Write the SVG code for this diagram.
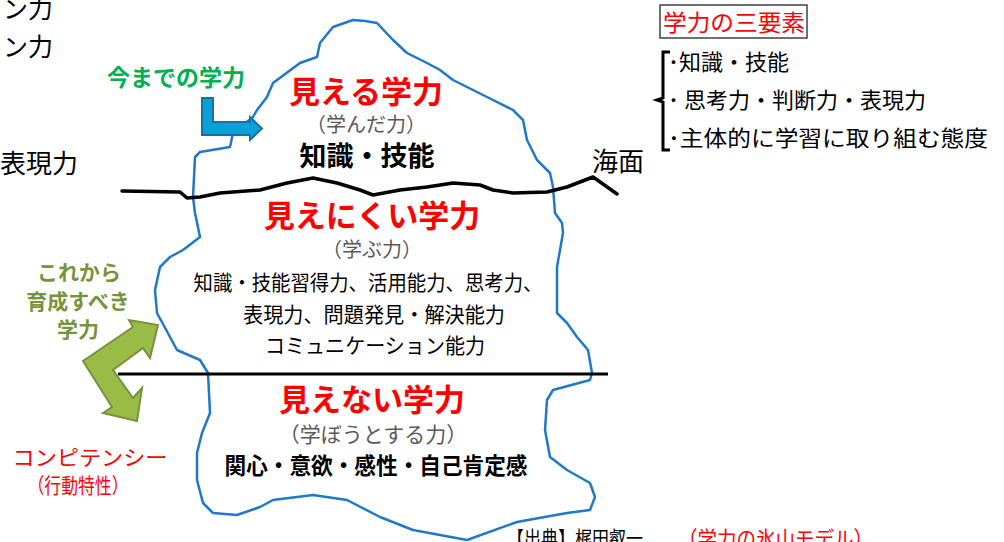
<svg xmlns="http://www.w3.org/2000/svg" width="1004" height="542" viewBox="0 0 1004 542">
<style>
.jp{font-family:"Noto Sans CJK JP","Noto Sans",sans-serif;}
.title{font-size:31px;font-weight:bold;fill:#FF0000;text-anchor:middle;}
.sub{font-size:21px;fill:#595959;text-anchor:middle;}
.body{font-size:21px;fill:#000;text-anchor:middle;}
.plain{font-size:25px;fill:#000;}
.list{font-size:22px;fill:#000;}
</style>
<rect width="1004" height="542" fill="#fff"/>
<g id="iceberg">
<path d="M365,21 L377,23 L393,40 L407,53 L427,63 L440,70 L453,80 L473,90 L493,100 L513,110 L523,120 L527,140 L537,160 L550,173 L553,187 L555,213 L562,223 L563,233 L557,267 L557,313 L567,323 L577,337 L588,350 L592,373 L590,380 L553,390 L547,400 L545,430 L550,457 L567,470 L590,483 L595,497 L590,510 L567,513 L517,522 L467,540 L413,530 L380,517 L347,500 L313,495 L273,500 L260,507 L237,515 L213,513 L203,503 L197,480 L197,453 L202,433 L210,413 L208,373 L200,360 L177,350 L170,337 L157,313 L155,290 L160,267 L170,257 L183,250 L200,237 L195,213 L193,197 L195,157 L200,152 L230,147 L233,133 L253,117 L257,110 L267,97 L273,83 L300,63 L317,57 L320,43 L333,27 L353,20 Z" fill="#fff" stroke="#1F78C8" stroke-width="2.5" stroke-linejoin="round"/>
</g>
<g id="lines">
<polyline points="122,191 180,192 187,198 200,197 220,193 260,190 287,183 313,178 337,183 360,190 373,195 400,190 427,187 453,183 480,185 493,190 513,193 547,192 567,187 580,182 593,177 603,184 617,194" fill="none" stroke="#000" stroke-width="3.5" stroke-linejoin="round" stroke-linecap="round"/>
<line x1="118" y1="374" x2="608" y2="374" stroke="#000" stroke-width="3"/>
</g>
<g id="connectors">
<polygon points="202,98 213,98 213,122 250,122 250,117 262,128.5 250,140 250,135 202,135" fill="#0AA0D8" stroke="#1A6FA5" stroke-width="2"/>
<polygon points="83,361 133,327 129,320 158,325 150,358 143,348 113,370 133,398 142,388 137,421 103,413 112,407" fill="#9BBB47" stroke="#76923C" stroke-width="2" stroke-linejoin="miter"/>
</g>
<g id="visible" class="jp">
<text x="366" y="103" class="title">見える学力</text>
<text x="366" y="132" class="sub" style="font-size:20px">（学んだ力）</text>
<text x="367" y="166" class="body" style="font-size:27px;font-weight:bold">知識・技能</text>
</g>
<g id="hard-to-see" class="jp">
<text x="372" y="227" class="title">見えにくい学力</text>
<text x="372" y="257" class="sub" style="font-size:20px">（学ぶ力）</text>
<text x="368" y="290" class="body" textLength="349" lengthAdjust="spacingAndGlyphs">知識・技能習得力、活用能力、思考力、</text>
<text x="374" y="322" class="body" textLength="262" lengthAdjust="spacingAndGlyphs">表現力、問題発見・解決能力</text>
<text x="375" y="353" class="body" textLength="220" lengthAdjust="spacingAndGlyphs">コミュニケーション能力</text>
</g>
<g id="invisible" class="jp">
<text x="372" y="411" class="title">見えない学力</text>
<text x="373" y="442" class="sub">（学ぼうとする力）</text>
<text x="376" y="474" class="body" style="font-size:23px;font-weight:bold" textLength="303" lengthAdjust="spacingAndGlyphs">関心・意欲・感性・自己肯定感</text>
</g>
<g id="left-labels" class="jp">
<text x="3" y="18" class="plain">ン力</text>
<text x="3" y="56" class="plain">ン力</text>
<text x="0" y="173" class="plain" style="font-size:26px">表現力</text>
<text x="592" y="171" class="plain" style="font-size:26px">海面</text>
</g>
<g id="now-label" class="jp">
<text x="107" y="86" font-size="23" font-weight="bold" fill="#00B050">今までの学力</text>
</g>
<g id="future-label" class="jp" font-size="21" font-weight="bold" fill="#77933C" text-anchor="middle">
<text x="79" y="280">これから</text>
<text x="78" y="309">育成すべき</text>
<text x="78" y="337">学力</text>
</g>
<g id="competency" class="jp" fill="#FF0000" text-anchor="middle">
<text x="90" y="465" font-size="21" textLength="155" lengthAdjust="spacingAndGlyphs">コンピテンシー</text>
<text x="78" y="493" font-size="21" textLength="101" lengthAdjust="spacingAndGlyphs">（行動特性）</text>
</g>
<g id="three-elements" class="jp">
<rect x="660" y="5" width="147" height="33" fill="#fff" stroke="#404040" stroke-width="1.5"/>
<text x="663" y="31" font-size="23" fill="#FF0000" textLength="142" lengthAdjust="spacingAndGlyphs">学力の三要素</text>
<path d="M670,52 L663,52 L663,98 L657,100 L663,102 L663,150 L670,150" fill="none" stroke="#000" stroke-width="3"/>
<text x="668" y="70" class="list">･知識・技能</text>
<text x="668" y="108" class="list">･ 思考力・判断力・表現力</text>
<text x="668" y="146" class="list" textLength="320" lengthAdjust="spacingAndGlyphs">･主体的に学習に取り組む態度</text>
</g>
<g id="source" class="jp">
<text x="507" y="546" font-size="20" fill="#000" textLength="136" lengthAdjust="spacingAndGlyphs">【出典】梶田叡一</text>
<text x="678" y="546" font-size="21" fill="#FF0000" textLength="195" lengthAdjust="spacingAndGlyphs">（学力の氷山モデル）</text>
</g>
</svg>
